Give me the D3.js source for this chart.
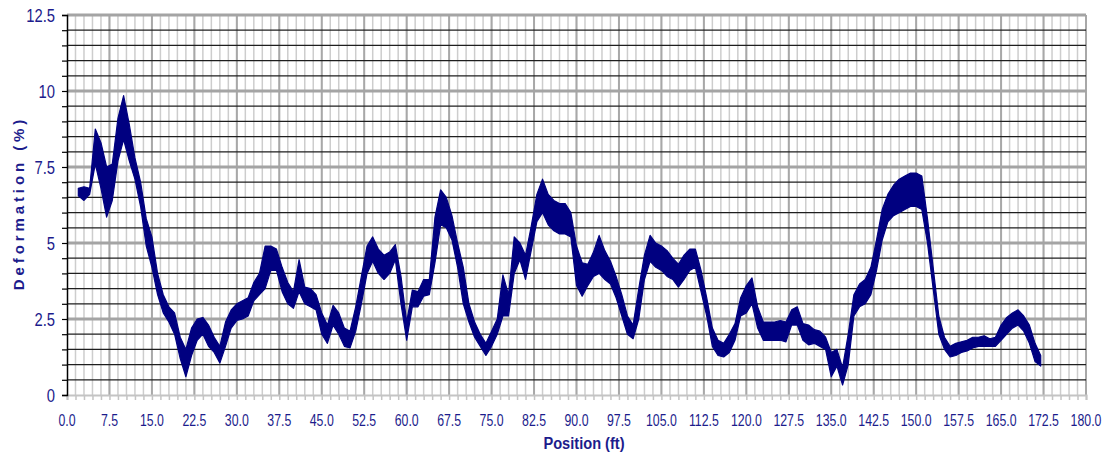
<!DOCTYPE html>
<html>
<head>
<meta charset="utf-8">
<script src="https://cdn.jsdelivr.net/npm/d3@7"></script>
<style>
	body { margin: 0; background: #fff; }
	svg { display: block; }
</style>
</head>
<body>
<script>
// Position samples (ft), one per foot from 2 to 172
const position = d3.range(2, 173, 1);

// Deformation (%): upper and lower edge of the noisy trace at each foot
const upperEdge = [
	6.8, 6.85, 6.8, 8.75, 8.3, 7.5, 7.6, 9.1, 9.85, 8.9,
	7.8, 7.0, 5.8, 5.2, 4.0, 3.3, 2.9, 2.7, 1.9, 1.5,
	2.2, 2.5, 2.55, 2.3, 1.9, 1.6, 2.4, 2.8, 3.0, 3.1,
	3.2, 3.7, 4.0, 4.9, 4.9, 4.8, 4.2, 3.7, 3.4, 4.45,
	3.55, 3.5, 3.3, 2.7, 2.3, 2.95, 2.7, 2.2, 2.1, 2.9,
	3.9, 4.9, 5.2, 4.8, 4.6, 4.7, 4.95, 3.9, 2.4, 3.45,
	3.4, 3.8, 3.8, 5.85, 6.75, 6.5, 5.9, 5.0, 4.2, 3.0,
	2.4, 2.0, 1.7, 2.1, 2.5, 3.95, 3.3, 5.2, 5.0, 4.6,
	5.55, 6.6, 7.1, 6.6, 6.4, 6.3, 6.3, 6.0, 4.9, 4.35,
	4.3, 4.7, 5.25, 4.75, 4.4, 3.9, 3.3, 2.6, 2.3, 3.5,
	4.6, 5.25, 5.0, 4.9, 4.75, 4.5, 4.3, 4.6, 4.8, 4.8,
	4.1, 3.2, 2.2, 1.8, 1.7, 2.0, 2.35, 3.2, 3.6, 3.85,
	2.9, 2.4, 2.4, 2.4, 2.45, 2.4, 2.8, 2.9, 2.35, 2.3,
	2.15, 2.1, 1.9, 1.4, 1.5, 0.9, 2.0, 3.3, 3.65, 3.8,
	4.2, 5.1, 6.1, 6.6, 6.9, 7.1, 7.2, 7.3, 7.3, 7.2,
	5.8, 4.2, 2.6, 1.9, 1.6, 1.7, 1.75, 1.8, 1.9, 1.9,
	1.95, 1.85, 1.9, 2.3, 2.55, 2.7, 2.8, 2.6, 2.3, 1.7,
	1.3
];
const lowerEdge = [
	6.55, 6.4, 6.6, 7.6, 6.8, 5.85, 6.4, 7.7, 8.4, 7.7,
	7.1, 6.2, 4.9, 4.2, 3.3, 2.7, 2.4, 2.0, 1.2, 0.6,
	1.3, 1.8, 2.0, 1.6, 1.4, 1.05, 1.6, 2.2, 2.45, 2.5,
	2.6, 3.1, 3.3, 3.5, 4.1, 4.1, 3.4, 3.0, 2.85, 3.4,
	3.0, 2.9, 2.8, 2.0, 1.7, 2.3, 2.0, 1.6, 1.55, 2.1,
	3.0, 4.0, 4.4, 4.0, 3.8, 4.0, 4.45, 3.0, 1.8, 2.9,
	2.9, 3.25, 3.3, 4.35, 5.6, 5.5, 5.1, 4.2, 3.0, 2.4,
	1.9, 1.6, 1.3, 1.6, 2.0, 2.6, 2.6, 4.0, 4.45, 3.8,
	4.75, 5.7, 6.0, 5.6, 5.4, 5.3, 5.3, 5.2, 3.6, 3.25,
	3.6, 3.9, 4.0, 3.8, 3.65, 3.2, 2.6, 2.0, 1.85, 2.5,
	3.8, 4.4, 4.2, 4.1, 3.9, 3.8, 3.55, 3.8, 4.1, 4.2,
	3.4, 2.6, 1.6, 1.3, 1.25, 1.4, 1.8, 2.6, 2.7, 3.0,
	2.2, 1.8, 1.8, 1.8, 1.8, 1.75, 2.3, 2.3, 1.8, 1.65,
	1.7, 1.6, 1.5, 0.6, 0.95, 0.33, 1.0, 2.6, 2.9, 3.0,
	3.3, 4.1, 5.1, 5.7, 5.9, 6.0, 6.1, 6.2, 6.2, 6.1,
	5.0, 3.5, 2.0, 1.5, 1.25, 1.3, 1.4, 1.45, 1.55, 1.6,
	1.6, 1.6, 1.6, 1.8, 2.0, 2.2, 2.3, 2.1, 1.7, 1.1,
	0.95
];

// Tick labels
const xTickLabels = [0, 7.5, 15, 22.5, 30, 37.5, 45, 52.5, 60, 67.5, 75, 82.5, 90,
	97.5, 105, 112.5, 120, 127.5, 135, 142.5, 150, 157.5, 165, 172.5, 180];
const yTickLabels = [0, 2.5, 5, 7.5, 10, 12.5];

const w = 1107;
const h = 461;
const plotLeft = 67, plotRight = 1086, plotTop = 15, plotBottom = 395;
const textColor = "#1c1c8c";
const font = "'Liberation Sans', Arial, sans-serif";

const svg = d3.select("body").append("svg").attr("width", w).attr("height", h);

const x = d3.scaleLinear().domain([0, 180]).range([plotLeft, plotRight]);
const y = d3.scaleLinear().domain([0, 12.5]).range([plotBottom, plotTop]);

// vertical grid: minor every 1.5 ft, major every 7.5 ft
const grid = svg.append("g");
grid.selectAll(".vminor")
	.data(d3.range(1.5, 180.01, 1.5))
	.enter().append("line")
	.attr("x1", (d) => x(d)).attr("x2", (d) => x(d))
	.attr("y1", plotTop).attr("y2", plotBottom)
	.attr("stroke", "#cdcdcd").attr("stroke-width", 1.5);
grid.selectAll(".vmajor")
	.data(xTickLabels.slice(1))
	.enter().append("line")
	.attr("x1", (d) => x(d)).attr("x2", (d) => x(d))
	.attr("y1", plotTop).attr("y2", plotBottom)
	.attr("stroke", "#a8a8a8").attr("stroke-width", 2);

// horizontal grid: minor every 0.5 %, major every 2.5 %
grid.selectAll(".hminor")
	.data(d3.range(0.5, 12.5, 0.5).filter((d) => d % 2.5 !== 0))
	.enter().append("line")
	.attr("x1", plotLeft).attr("x2", plotRight)
	.attr("y1", (d) => y(d)).attr("y2", (d) => y(d))
	.attr("stroke", "#1e1e1e").attr("stroke-width", 1.2);
grid.selectAll(".hmajor")
	.data(yTickLabels.slice(1))
	.enter().append("line")
	.attr("x1", plotLeft).attr("x2", plotRight)
	.attr("y1", (d) => y(d)).attr("y2", (d) => y(d))
	.attr("stroke", "#a4a4a4").attr("stroke-width", 3);

// x axis (light grey, ticks every 1.5 ft)
const xAxis = svg.append("g")
	.attr("transform", `translate(0, ${plotBottom})`)
	.call(d3.axisBottom(x).tickValues(d3.range(0, 180.01, 1.5)).tickSize(5).tickFormat(""));
xAxis.select(".domain").attr("stroke", "#c4c4c4").attr("stroke-width", 2);
xAxis.selectAll(".tick line").attr("stroke", "#c4c4c4").attr("stroke-width", 1.5);

// condensed labels: ordinary sans squeezed horizontally
svg.append("g")
	.selectAll("text")
	.data(xTickLabels)
	.enter().append("text")
	.attr("transform", (d) => `translate(${x(d)}, 426) scale(0.77, 1)`)
	.attr("text-anchor", "middle")
	.attr("fill", textColor)
	.style("font-family", font)
	.style("font-size", "16px")
	.text((d) => d.toFixed(1));

// y axis (black, ticks every 0.5 %)
const yAxis = svg.append("g")
	.attr("transform", `translate(${plotLeft}, 0)`)
	.call(d3.axisLeft(y).tickValues(d3.range(0, 12.51, 0.5)).tickSize(5).tickFormat(""));
yAxis.select(".domain").attr("stroke", "#000").attr("stroke-width", 1.5);
yAxis.selectAll(".tick line").attr("stroke", "#000").attr("stroke-width", 1.2);

svg.append("g")
	.selectAll("text")
	.data(yTickLabels)
	.enter().append("text")
	.attr("transform", (d) => `translate(55, ${y(d)}) scale(0.8, 1)`)
	.attr("dy", "0.36em")
	.attr("text-anchor", "end")
	.attr("fill", textColor)
	.style("font-family", font)
	.style("font-size", "18.5px")
	.text((d) => d);

// the deformation trace, drawn as the band between its noisy edges
const band = d3.area()
	.x((d) => x(d))
	.y0((d, i) => y(lowerEdge[i]))
	.y1((d, i) => y(upperEdge[i]));

svg.append("path")
	.datum(position)
	.attr("d", band)
	.attr("fill", "#000080")
	.attr("stroke", "#000080")
	.attr("stroke-width", 1.2)
	.attr("stroke-linejoin", "round");

// axis titles
svg.append("text")
	.attr("transform", "translate(584, 449) scale(0.86, 1)")
	.attr("text-anchor", "middle")
	.attr("fill", textColor)
	.style("font-family", font)
	.style("font-weight", "bold")
	.style("font-size", "17px")
	.text("Position (ft)");

svg.append("text")
	.attr("transform", "translate(24, 203) rotate(-90)")
	.attr("text-anchor", "middle")
	.attr("fill", textColor)
	.style("font-family", font)
	.style("font-weight", "bold")
	.style("font-size", "15px")
	.style("letter-spacing", "3.9px")
	.text("Deformation (%)");
</script>
</body>
</html>
